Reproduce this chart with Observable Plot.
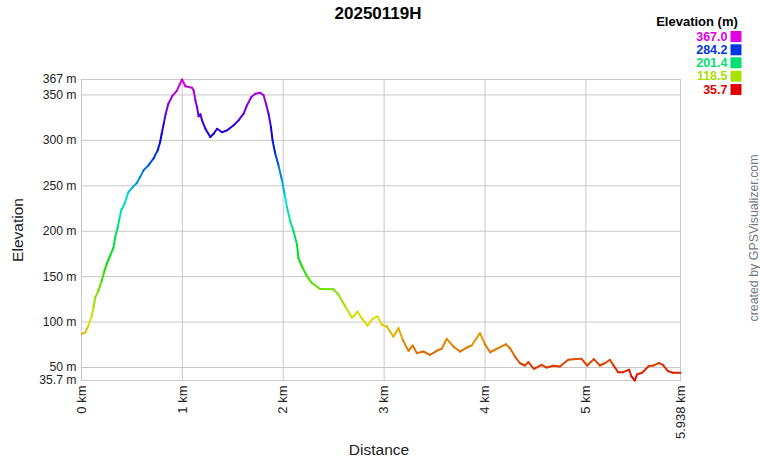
<!DOCTYPE html>
<html>
<head>
<meta charset="utf-8">
<script src="https://cdn.jsdelivr.net/npm/d3@7"></script>
<script src="https://cdn.jsdelivr.net/npm/@observablehq/plot@0.6"></script>
<style>
  html, body { margin: 0; padding: 0; background: #fff; }
</style>
</head>
<body>
<div id="chart"></div>
<script>
// Track profile (distance in km, elevation in m)
const distKm = [0, 0.037, 0.069, 0.102, 0.119, 0.136, 0.168, 0.201, 0.228, 0.250, 0.284, 0.317, 0.334, 0.359, 0.376, 0.393, 0.426, 0.465, 0.508, 0.548, 0.581, 0.614, 0.663, 0.713, 0.755, 0.779, 0.795, 0.815, 0.835, 0.861, 0.901, 0.944, 0.977, 0.997, 1.030, 1.096, 1.112, 1.129, 1.145, 1.161, 1.178, 1.195, 1.228, 1.277, 1.310, 1.344, 1.393, 1.443, 1.508, 1.557, 1.607, 1.641, 1.683, 1.723, 1.772, 1.805, 1.829, 1.854, 1.878, 1.894, 1.921, 1.953, 1.987, 2.013, 2.037, 2.069, 2.102, 2.136, 2.151, 2.185, 2.235, 2.284, 2.366, 2.498, 2.548, 2.614, 2.680, 2.696, 2.736, 2.779, 2.835, 2.888, 2.934, 2.977, 3.027, 3.092, 3.142, 3.185, 3.241, 3.284, 3.324, 3.389, 3.455, 3.522, 3.571, 3.621, 3.686, 3.752, 3.819, 3.868, 3.950, 4.000, 4.050, 4.116, 4.208, 4.248, 4.297, 4.347, 4.396, 4.429, 4.485, 4.561, 4.611, 4.676, 4.743, 4.825, 4.874, 4.957, 5.013, 5.079, 5.139, 5.188, 5.238, 5.270, 5.319, 5.369, 5.429, 5.452, 5.485, 5.508, 5.557, 5.624, 5.673, 5.726, 5.765, 5.814, 5.864, 5.938];
const elevM = [87, 88.6, 96, 107, 116, 127, 134.6, 145.6, 156.6, 164, 173, 182, 193.4, 204.4, 213.6, 222.8, 230, 243, 248.5, 253, 259.6, 267, 272.5, 279.8, 289, 298, 307.3, 318.3, 329.4, 340.4, 349, 354.4, 362.5, 367, 359.6, 358, 355, 344, 336.8, 326.5, 328.7, 322, 312.8, 303.7, 307.3, 312.8, 309, 311, 316.6, 322, 329.4, 338.6, 347.8, 351.4, 352.5, 349.7, 340.4, 329.4, 314.7, 300, 285.3, 272.5, 256, 241, 226.5, 211, 200, 185.3, 170.5, 161.4, 150.4, 143, 136.4, 136, 130.2, 117.3, 105, 106, 111.6, 104, 96, 103.7, 106.3, 97, 95.2, 84, 93.3, 80.4, 68.4, 74.2, 65.8, 67.6, 64, 68.4, 70.6, 81.6, 73.2, 67.6, 72, 74.2, 87.8, 75.6, 66.8, 70.6, 75.6, 71.2, 62.1, 54.7, 52.2, 55.9, 48.6, 53, 50, 51.9, 51.1, 58.5, 59.2, 59.6, 52.2, 59.2, 52.2, 54.7, 58.5, 53, 44.9, 44.9, 47.5, 40.1, 35.7, 42.4, 44.2, 51.6, 52.3, 55.2, 52.6, 46, 44.2, 44.2];

const elevMin = 35.7;
const elevMax = 367;
const distMax = 5.938;

const yTicks = [35.7, 50, 100, 150, 200, 250, 300, 350, 367];
const xTicks = [0, 1, 2, 3, 4, 5, 5.938];

const legendValues = [367.0, 284.2, 201.4, 118.5, 35.7];
const legendLabels = ["367.0", "284.2", "201.4", "118.5", "35.7"];

const titleText = "20250119H";
const legendTitle = "Elevation (m)";
const yLabel = "Elevation";
const xLabel = "Distance";
const creditText = "created by GPSVisualizer.com";

// segments between consecutive samples, coloured by their mean elevation
const segments = distKm.slice(1).map((d, i) => ({
  x1: distKm[i], y1: elevM[i], x2: d, y2: elevM[i + 1],
  e: (elevM[i] + elevM[i + 1]) / 2
}));

const font = "'Liberation Sans', Arial, Helvetica, sans-serif";
const legendDy = [-43, -29.7, -16.7, -3.3, 10];

const marks = [
  Plot.gridY(yTicks, {stroke: "#c8c8c8", strokeOpacity: 1}),
  Plot.gridX(xTicks, {stroke: "#c8c8c8", strokeOpacity: 1}),
  Plot.frame({stroke: "#c8c8c8"}),
  Plot.axisY({ticks: yTicks, tickFormat: d => `${d} m`, tickSize: 0, tickPadding: 5, label: null, fontSize: 12.2, fill: "#222"}),
  Plot.axisX({ticks: xTicks, tickFormat: d => `${d} km`, tickRotate: -90, tickSize: 0, tickPadding: 5, label: null, fontSize: 13, fill: "#222", textAnchor: "end", lineAnchor: "middle"}),
  Plot.link(segments, {x1: "x1", y1: "y1", x2: "x2", y2: "y2", stroke: "e", strokeWidth: 2, strokeLinecap: "round"}),
  Plot.text([titleText], {frameAnchor: "top", text: d => d, dx: -3, dy: -65.7, fontSize: 17, fontWeight: "bold", fill: "#000", lineAnchor: "middle"}),
  Plot.text([yLabel], {frameAnchor: "left", text: d => d, dx: -63, rotate: -90, fontSize: 15.5, fill: "#222", textAnchor: "middle", lineAnchor: "middle"}),
  Plot.text([xLabel], {frameAnchor: "bottom", text: d => d, dx: -2, dy: 70, fontSize: 15.5, fill: "#222", lineAnchor: "middle"}),
  Plot.text([creditText], {frameAnchor: "right", text: d => d, dx: 74, dy: 8, rotate: -90, fontSize: 12.4, fill: "#777", textAnchor: "middle", lineAnchor: "middle"}),
  Plot.text([legendTitle], {frameAnchor: "top-right", text: d => d, dx: 57.3, dy: -57.5, textAnchor: "end", fontSize: 13, fontWeight: "bold", fill: "#000", lineAnchor: "middle"}),
  ...legendValues.map((v, i) => Plot.text([v], {frameAnchor: "top-right", text: () => legendLabels[i], fill: d => d, dx: 47, dy: legendDy[i], textAnchor: "end", fontSize: 12.5, fontWeight: "bold", lineAnchor: "middle"})),
  ...legendValues.map((v, i) => Plot.dot([v], {frameAnchor: "top-right", fill: d => d, symbol: "square", r: 6.2, dx: 55.5, dy: legendDy[i], stroke: "none"}))
];

const chart = Plot.plot({
  width: 760,
  height: 460,
  marginLeft: 81,
  marginRight: 80,
  marginTop: 79,
  marginBottom: 80,
  style: {fontFamily: font, fontSize: "13px", background: "#fff", color: "#222"},
  x: {domain: [0, distMax]},
  y: {domain: [elevMin, elevMax]},
  color: {type: "linear", domain: [elevMin, elevMax], interpolate: t => d3.hsl(300 * t, 1, 0.44).formatHex()},
  marks
});

document.getElementById("chart").appendChild(chart);
</script>
</body>
</html>
